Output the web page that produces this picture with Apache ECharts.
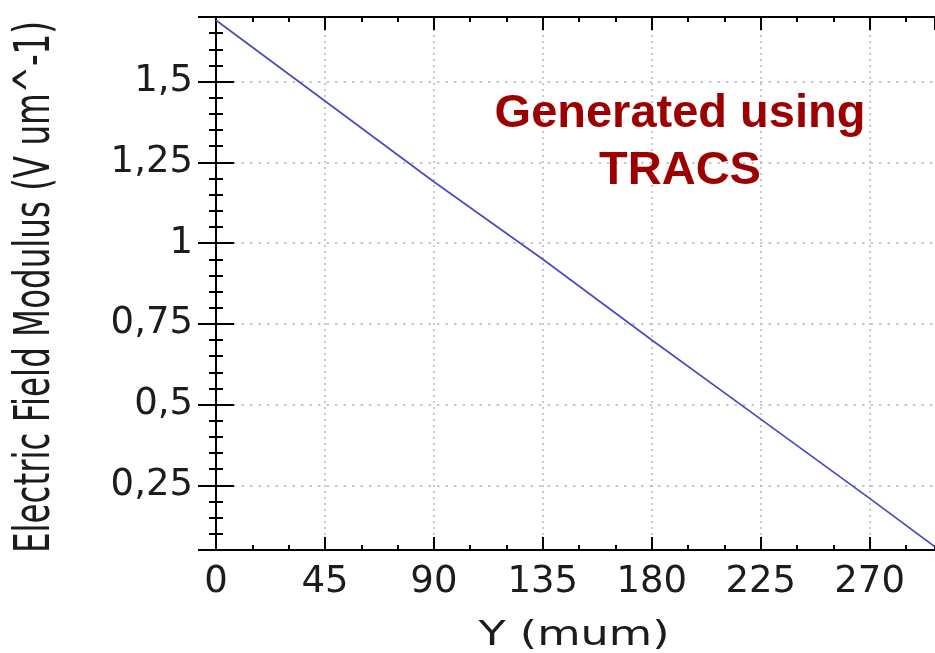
<!DOCTYPE html>
<html>
<head>
<meta charset="utf-8">
<title>Electric Field Modulus</title>
<script src="https://cdn.jsdelivr.net/npm/echarts@6/dist/echarts.min.js"></script>
<style>
  html, body { margin: 0; padding: 0; background: #ffffff; }
  #chart { width: 935px; height: 653px; }
</style>
</head>
<body>
<div id="chart"></div>
<script>
// Depth across the sensor (um) and the field modulus at each depth (V/um)
const depthValues = [0, 45, 90, 135, 180, 225, 270, 297];
const fieldValues = [1.69, 1.44, 1.19, 0.95, 0.70, 0.455, 0.21, 0.06];

// Axis ranges and tick spacing
const xRange = [0, 297];
const xMajorStep = 45;
const xMinorStep = 15;
const yRange = [0.05, 1.7];
const yMajorStep = 0.25;
const yMinorStep = 0.05;

// Text
const xTitle = 'Y (mum)';
const yTitle = 'Electric Field Modulus (V um^-1)';
const stampLines = ['Generated using', 'TRACS'];

const seriesData = depthValues.map((d, i) => [d, fieldValues[i]]);

const axisColor = '#000000';
const gridColor = '#b4b4c2';
const labelFont = 'DejaVu Sans';

function commaNumber(v) {
  return String(+v.toFixed(2)).replace('.', ',');
}

// Labelled (or mirrored) major axis along x, ticks pointing into the plot
function xAxisMajor(position, withLabels) {
  return {
    type: 'value', position, min: xRange[0], max: xRange[1], interval: xMajorStep,
    axisLine: { show: true, lineStyle: { color: axisColor, width: 2 } },
    axisTick: { show: true, inside: true, length: 13, lineStyle: { color: axisColor, width: 2 } },
    axisLabel: {
      show: withLabels, margin: 14, fontSize: 37, fontFamily: labelFont, color: '#1c1c1c',
      showMinLabel: true, showMaxLabel: false,
      formatter: v => (Math.abs(v / xMajorStep - Math.round(v / xMajorStep)) < 1e-6 ? commaNumber(v) : '')
    },
    splitLine: {
      show: withLabels, showMinLine: false, showMaxLine: false,
      lineStyle: { color: gridColor, width: 1.5, type: [2, 4] }
    }
  };
}
// Minor tick marks along x
function xAxisMinor(position) {
  return {
    type: 'value', position, min: xRange[0], max: xRange[1], interval: xMinorStep,
    axisLine: { show: false }, axisLabel: { show: false }, splitLine: { show: false },
    axisTick: { show: true, inside: true, length: 5, lineStyle: { color: axisColor, width: 2 } }
  };
}
// Major axis along y; min/maxInterval keep the ticks on multiples of 0.25
function yAxisMajor(position, withLabels) {
  return {
    type: 'value', position, min: yRange[0], max: yRange[1],
    minInterval: yMajorStep, maxInterval: yMajorStep, splitNumber: 7,
    axisLine: { show: true, lineStyle: { color: axisColor, width: 2 } },
    axisTick: { show: true, inside: true, length: 18, lineStyle: { color: axisColor, width: 2 } },
    axisLabel: {
      show: withLabels, margin: 23, fontSize: 37, fontFamily: labelFont, color: '#1c1c1c',
      showMinLabel: false, showMaxLabel: false,
      formatter: v => (Math.abs(v / yMajorStep - Math.round(v / yMajorStep)) < 1e-6 ? commaNumber(v) : '')
    },
    splitLine: {
      show: withLabels, showMinLine: false, showMaxLine: false,
      lineStyle: { color: gridColor, width: 1.5, type: [2.5, 6] }
    }
  };
}
// Minor tick marks along y
function yAxisMinor(position) {
  return {
    type: 'value', position, min: yRange[0], max: yRange[1], interval: yMinorStep,
    axisLine: { show: false }, axisLabel: { show: false }, splitLine: { show: false },
    axisTick: { show: true, inside: true, length: 7, lineStyle: { color: axisColor, width: 2 } }
  };
}

const chart = echarts.init(document.getElementById('chart'));
chart.setOption({
  backgroundColor: '#ffffff',
  animation: false,
  grid: { left: 216, top: 17, right: -1, bottom: 103, containLabel: false },
  xAxis: [xAxisMajor('bottom', true), xAxisMinor('bottom'), xAxisMajor('top', false), xAxisMinor('top')],
  yAxis: [yAxisMajor('left', true), yAxisMinor('left'), yAxisMajor('right', false), yAxisMinor('right')],
  series: [{
    type: 'line',
    xAxisIndex: 0, yAxisIndex: 0,
    data: seriesData,
    showSymbol: false,
    smooth: false,
    lineStyle: { color: '#4a4ac4', width: 1.7 },
    z: 5
  }],
  graphic: [
    {
      // vertical axis title, drawn tall and narrow
      type: 'text', x: 61, y: 553, rotation: Math.PI / 2, scaleX: 1, scaleY: 1.55,
      style: { text: yTitle, font: '32.5px "DejaVu Sans"', fill: '#1c1c1c', align: 'left', verticalAlign: 'bottom' }
    },
    {
      type: 'text', x: 574, y: 653, scaleX: 1.31, scaleY: 1,
      style: { text: xTitle, font: '34px "DejaVu Sans"', fill: '#1c1c1c', align: 'center', verticalAlign: 'bottom' }
    },
    {
      type: 'text', x: 680, y: 86, z: 10,
      style: {
        text: stampLines.join('\n'), font: 'bold 47px "Liberation Sans"', fill: '#9c0000',
        align: 'center', verticalAlign: 'top', lineHeight: 57
      }
    }
  ]
});
</script>
</body>
</html>
